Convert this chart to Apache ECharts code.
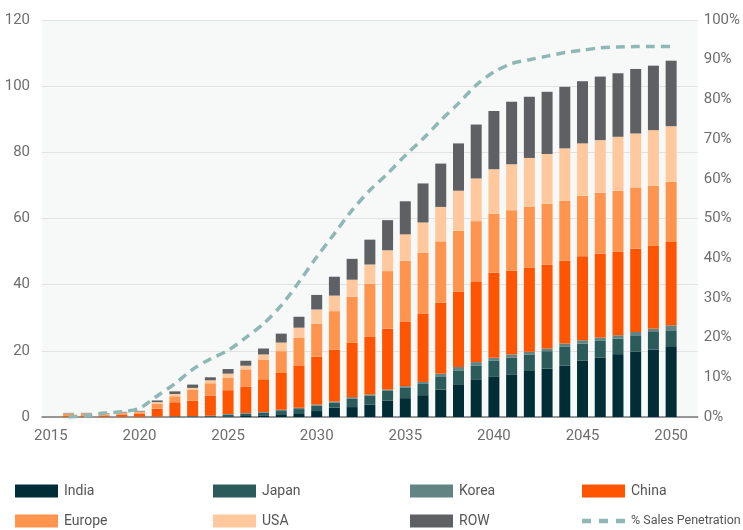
<!DOCTYPE html>
<html>
<head>
<meta charset="utf-8">
<script src="https://cdn.jsdelivr.net/npm/echarts@6/dist/echarts.min.js"></script>
<style>
html,body{margin:0;padding:0;background:#fff;}
#chart{width:743px;height:530px;}
</style>
</head>
<body>
<div id="chart"></div>
<script>
// Years with data: 2016..2050 (axis starts at 2015, one empty slot after 2050)
const years = ['2015','2016','2017','2018','2019','2020','2021','2022','2023','2024','2025','2026','2027','2028','2029','2030','2031','2032','2033','2034','2035','2036','2037','2038','2039','2040','2041','2042','2043','2044','2045','2046','2047','2048','2049','2050',''];

// Values for 2016..2050
const india  = [0,0,0,0,0, 0,0.05,0.05,0.1,0.2, 0.3,0.5,0.6,0.9,1.8, 2.8,3.0,3.7,5.0,5.7, 6.6,8.3,9.9,11.4,12.3, 12.9,13.9,14.6,15.6,17.1, 17.9,19.0,19.7,20.4,21.4];
const japan  = [0.05,0.05,0.05,0.05,0.05, 0.1,0.15,0.2,0.25,0.5, 0.7,0.8,1.2,1.5,1.6, 1.5,2.6,2.7,2.9,3.1, 3.4,4.0,4.2,4.2,4.8, 5.1,5.0,5.3,5.6,5.1, 5.1,4.7,5.0,5.3,4.6];
const korea  = [0,0,0,0,0, 0,0.05,0.05,0.05,0.2, 0.2,0.2,0.4,0.4,0.4, 0.4,0.4,0.4,0.4,0.5, 0.6,0.8,1.0,1.0,0.8, 0.9,0.8,0.8,1.0,1.0, 1.0,1.0,1.0,1.0,1.7];
const china  = [0.3,0.4,0.4,0.6,0.9, 2.4,4.2,4.6,6.1,7.2, 7.9,9.9,11.1,12.8,14.4, 15.7,16.4,17.4,18.4,19.6, 20.7,21.5,22.7,24.4,25.7, 25.3,25.5,25.4,25.0,25.4, 25.4,25.2,25.2,25.0,25.2];
const europe = [0.6,0.5,0.4,0.5,0.5, 1.5,1.8,3.3,3.7,3.8, 5.3,6.0,6.6,8.4,10.0, 11.6,13.9,16.1,17.4,18.3, 18.4,18.5,18.5,18.2,17.9, 18.3,18.3,18.4,18.1,18.3, 18.4,18.5,18.5,18.2,18.2];
const usa    = [0.15,0.15,0.15,0.2,0.2, 0.5,0.7,0.6,0.9,1.2, 1.1,1.5,2.6,3.0,4.3, 4.7,5.2,5.8,6.3,8.0, 9.1,10.4,12.1,12.9,13.4, 13.9,14.8,15.0,15.9,15.8, 15.9,16.3,16.3,16.8,16.8];
const row    = [0.15,0.15,0.15,0.2,0.2, 0.5,0.8,1.0,0.9,1.4, 1.5,1.8,2.7,3.3,4.4, 5.7,6.3,7.5,9.1,10.0, 11.8,13.1,14.3,16.3,17.6, 18.9,18.5,18.8,18.6,18.8, 19.2,19.2,19.5,19.5,19.8];
const penetration = [0,0.3,1.0,1.3,2.2, 5.3,8.4,12.0,14.6,16.8, 20.0,23.5,28.1,34.0,40.3, 46.2,52.1,57.1,61.3,65.9, 70.1,74.7,79.0,83.6,86.9, 89.0,90.0,90.9,91.8,92.4, 93.0,93.2,93.3,93.3,93.3];

const leftTicks = {min:0, max:120, interval:20};
const rightTicks = {min:0, max:100, interval:10};

function pad(arr){ return [null].concat(arr, [null]); }

const FONT = 'Roboto, "Liberation Sans", Arial, sans-serif';
const TXT = '#6e6e6e';

const barDefs = [
  ['India', india, '#002d36'],
  ['Japan', japan, '#2b5b5a'],
  ['Korea', korea, '#628583'],
  ['China', china, '#ff5500'],
  ['Europe', europe, '#ff944f'],
  ['USA', usa, '#ffc99d'],
  ['ROW', row, '#5f6064']
];

const series = barDefs.map(d => ({
  name: d[0], type: 'bar', stack: 'total', barWidth: 11,
  data: pad(d[1]), itemStyle: {color: d[2]}, emphasis: {disabled: true}
}));
series.push({
  name: '% Sales Penetration', type: 'line', yAxisIndex: 1, smooth: 0.3,
  symbol: 'none', data: pad(penetration), color: '#8fb8b5',
  lineStyle: {color: '#8fb8b5', width: 3.5, type: [9, 6]}, z: 5
});

const dashIcon = 'path://M0,0h8v4h-8z M15,0h8v4h-8z M30,0h8v4h-8z';

function legendCol(left, names){
  return {
    orient: 'vertical', left: left, top: 478, height: 52, itemWidth: 43, itemHeight: 13,
    itemGap: 14, icon: 'rect',
    textStyle: {fontFamily: FONT, fontSize: 14, lineHeight: 16, color: '#555', padding: [0,0,0,1]},
    data: names.map(n => n === '% Sales Penetration'
      ? {name: n, icon: dashIcon, textStyle: {fontSize: 12.5}}
      : {name: n}),
    selectedMode: false
  };
}

const chart = echarts.init(document.getElementById('chart'));
chart.setOption({
  animation: false,
  grid: {left: 42, right: 37, top: 20, bottom: 113, show: true, backgroundColor: '#f7f8f8', borderWidth: 0},
  legend: [
    legendCol(10, ['India', 'Europe']),
    legendCol(208, ['Japan', 'USA']),
    legendCol(405, ['Korea', 'ROW']),
    legendCol(577, ['China', '% Sales Penetration'])
  ],
  xAxis: {
    type: 'category', data: years,
    axisLine: {lineStyle: {color: '#7a7a7a', width: 1.5}},
    axisTick: {show: false},
    axisLabel: {interval: 4, color: TXT, fontFamily: FONT, fontSize: 15, margin: 12}
  },
  yAxis: [
    {type: 'value', min: leftTicks.min, max: leftTicks.max, interval: leftTicks.interval,
     axisLine: {show: false}, axisTick: {show: false},
     axisLabel: {color: TXT, fontFamily: FONT, fontSize: 15, margin: 12},
     splitLine: {lineStyle: {color: '#e2e2e2', width: 1}}},
    {type: 'value', min: rightTicks.min, max: rightTicks.max, interval: rightTicks.interval,
     axisLine: {show: false}, axisTick: {show: false},
     axisLabel: {color: TXT, fontFamily: FONT, fontSize: 15, margin: 6, formatter: '{value}%'},
     splitLine: {show: false}}
  ],
  series: series
});
</script>
</body>
</html>
